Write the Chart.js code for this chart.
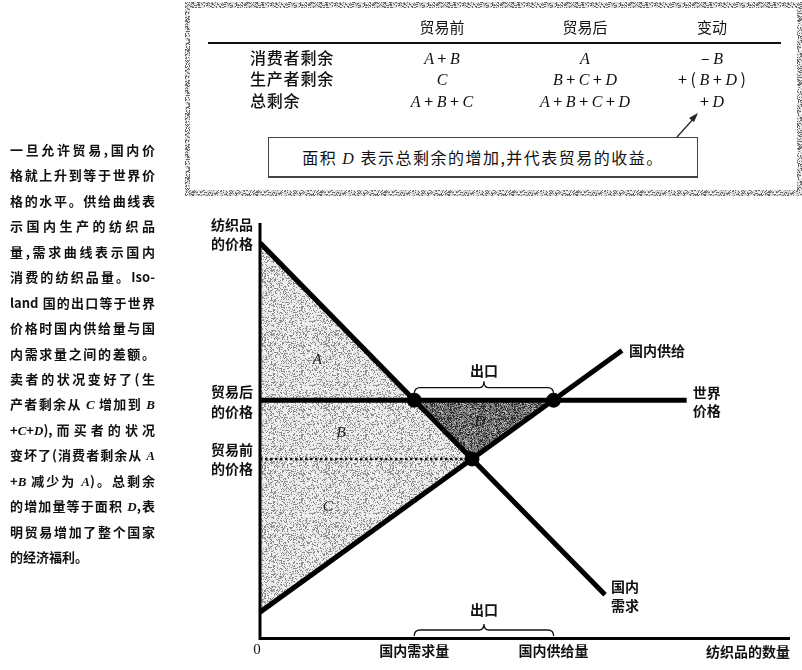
<!DOCTYPE html>
<html><head><meta charset="utf-8">
<script src="https://cdn.jsdelivr.net/npm/chart.js@4.4.1/dist/chart.umd.min.js"></script>
<style>
html,body{margin:0;padding:0;background:#fff;}
body{width:802px;height:670px;position:relative;overflow:hidden;font-family:"Noto Sans CJK SC","Noto Sans",sans-serif;color:#111;}
#c{position:absolute;left:0;top:0;width:802px;height:670px;}
.t{position:absolute;white-space:nowrap;height:20px;line-height:20px;}
.it{font-family:"Liberation Serif","DejaVu Serif",serif;font-style:italic;}
.p{position:absolute;left:10px;width:145px;height:20px;line-height:20px;font-size:13px;font-weight:bold;text-align:justify;text-align-last:justify;white-space:nowrap;color:#111;}
.p.last{text-align-last:left;}
.hd{font-size:15px;transform:translateX(-50%);}
.rl{font-size:16px;font-weight:500;left:250px;letter-spacing:0.8px;}
.cv{font-size:16px;transform:translateX(-50%);}
#hline{position:absolute;left:208px;top:42px;width:573px;height:2px;background:#111;}
#callout{position:absolute;left:268px;top:137px;width:428px;height:38px;border:1px solid #444;border-bottom:2px solid #444;background:#fff;font-size:16px;line-height:38px;text-align:center;letter-spacing:1.5px;}
#arrow{position:absolute;left:0;top:0;}
</style></head><body>
<canvas id="c" width="802" height="670"></canvas>
<div id="overlay"></div>
<script>
// ---- chart data (quantity on x, price on y, both 0..100 units) ----
const demandQ = [0, 65.1];
const demandP = [95.2, 10.2];
const supplyQ = [0, 68.3];
const supplyP = [6.0, 69.2];
const worldLineQ = [0, 80.5];
const worldPrice = 57.2;
const preTradePrice = 43.0;
const equilibriumQ = 40.0;
const tradeDemandQ = 29.1;
const tradeSupplyQ = 55.4;

// ---- table data ----
const tableHeaders = ['贸易前', '贸易后', '变动'];
const tableRows = ['消费者剩余', '生产者剩余', '总剩余'];
const beforeTrade = ['A + B', 'C', 'A + B + C'];
const afterTrade = ['A', 'B + C + D', 'A + B + C + D'];
const changeCol = ['– B', '+ ( B + D )', '+ D'];
const calloutText = '面积 D 表示总剩余的增加,并代表贸易的收益。';

// ---- side paragraph ----
const paragraphLines = [
  '一旦允许贸易,国内价',
  '格就上升到等于世界价',
  '格的水平。供给曲线表',
  '示国内生产的纺织品',
  '量,需求曲线表示国内',
  '消费的纺织品量。Iso-',
  'land 国的出口等于世界',
  '价格时国内供给量与国',
  '内需求量之间的差额。',
  '卖者的状况变好了(生',
  '产者剩余从 C 增加到 B',
  '+C+D),而买者的状况',
  '变坏了(消费者剩余从 A',
  '+B 减少为 A)。总剩余',
  '的增加量等于面积 D,表',
  '明贸易增加了整个国家',
  '的经济福利。'
];

function italicize(s) {
  return s.replace(/([A-D])/g, '<span class="it">$1</span>');
}

// ---- build HTML text ----
const ov = document.getElementById('overlay');
let html = '';
const colX = [442, 585, 712];
const rowY = [57, 78, 100];
tableHeaders.forEach((h, i) => {
  html += `<div class="t hd" style="left:${colX[i]}px;top:${27-10}px">${h}</div>`;
});
html += '<div id="hline"></div>';
const cols = [beforeTrade, afterTrade, changeCol];
tableRows.forEach((r, i) => {
  html += `<div class="t rl" style="top:${rowY[i]-10}px">${r}</div>`;
  cols.forEach((col, j) => {
    html += `<div class="t cv" style="left:${colX[j]}px;top:${rowY[i]-10}px">${italicize(col[i])}</div>`;
  });
});
html += `<div id="callout">${italicize(calloutText)}</div>`;
html += `<svg id="arrow" width="802" height="670"><line x1="677" y1="137" x2="695" y2="117" stroke="#222" stroke-width="1.2"/><polygon points="698,113 689,118 694,122" fill="#222"/></svg>`;
paragraphLines.forEach((l, i) => {
  const last = i === paragraphLines.length - 1 ? ' last' : '';
  html += `<div class="p${last}" style="top:${150 + i*25.44 - 10}px">${italicize(l)}</div>`;
});
ov.innerHTML = html;

// ---- stipple textures ----
function hash(x, y, s) {
  let n = Math.imul(x, 374761393) + Math.imul(y, 668265263) + Math.imul(s, 1442695041);
  n = Math.imul(n ^ (n >>> 13), 1274126177);
  n ^= n >>> 16;
  return (n >>> 0) / 4294967296;
}
function stipple(ctx, base, dark, frac, seed, light, lfrac) {
  const c = document.createElement('canvas');
  c.width = c.height = 64;
  const g = c.getContext('2d');
  g.fillStyle = base; g.fillRect(0, 0, 64, 64);
  for (let y = 0; y < 64; y++) for (let x = 0; x < 64; x++) {
    const h = hash(x, y, seed);
    if (h < frac) { g.fillStyle = dark; g.fillRect(x, y, 1, 1); }
    else if (light && h > 1 - lfrac) { g.fillStyle = light; g.fillRect(x, y, 1, 1); }
  }
  return ctx.createPattern(c, 'repeat');
}

function drawBrace(ctx, x1, x2, y0, h) {
  const mid = (x1 + x2) / 2, ym = y0 - h / 2, yt = y0 - h;
  ctx.beginPath();
  ctx.moveTo(x1, y0);
  ctx.quadraticCurveTo(x1, ym, x1 + 6, ym);
  ctx.lineTo(mid - 5, ym);
  ctx.quadraticCurveTo(mid, ym, mid, yt);
  ctx.quadraticCurveTo(mid, ym, mid + 5, ym);
  ctx.lineTo(x2 - 6, ym);
  ctx.quadraticCurveTo(x2, ym, x2, y0);
  ctx.stroke();
}

const decorPlugin = {
  id: 'decor',
  beforeDraw(chart) {
    const ctx = chart.ctx;
    ctx.save();
    const fr = stipple(ctx, '#d6d6d6', '#6a6a6a', 0.35, 7, '#ffffff', 0.2);
    ctx.fillStyle = fr;
    ctx.fillRect(185, 2, 617, 194);
    ctx.fillStyle = '#fff';
    ctx.fillRect(190, 8, 607, 182);
    ctx.restore();
  },
  beforeDatasetsDraw(chart) {
    const ctx = chart.ctx, xs = chart.scales.x, ys = chart.scales.y;
    const X = v => xs.getPixelForValue(v), Y = v => ys.getPixelForValue(v);
    ctx.save();
    ctx.fillStyle = stipple(ctx, '#e8e8e8', '#8c8c8c', 0.26, 3, '#ffffff', 0.12);
    ctx.beginPath();
    ctx.moveTo(X(0), Y(demandP[0]));
    ctx.lineTo(X(equilibriumQ), Y(preTradePrice));
    ctx.lineTo(X(0), Y(supplyP[0]));
    ctx.closePath();
    ctx.fill();
    ctx.fillStyle = stipple(ctx, '#7c7c7c', '#2e2e2e', 0.35, 11, '#bdbdbd', 0.12);
    ctx.beginPath();
    ctx.moveTo(X(tradeDemandQ), Y(worldPrice));
    ctx.lineTo(X(tradeSupplyQ), Y(worldPrice));
    ctx.lineTo(X(equilibriumQ), Y(preTradePrice));
    ctx.closePath();
    ctx.fill();
    ctx.restore();
  },
  afterDatasetsDraw(chart) {
    const ctx = chart.ctx, xs = chart.scales.x, ys = chart.scales.y;
    const X = v => xs.getPixelForValue(v), Y = v => ys.getPixelForValue(v);
    const a = chart.chartArea;
    ctx.save();
    // axes
    ctx.strokeStyle = '#000';
    ctx.lineWidth = 3;
    ctx.beginPath();
    ctx.moveTo(X(0), a.top);
    ctx.lineTo(X(0), a.bottom + 1.5);
    ctx.lineTo(a.right, a.bottom + 1.5);
    ctx.stroke();
    // braces
    ctx.lineWidth = 1.3;
    ctx.strokeStyle = '#111';
    drawBrace(ctx, X(tradeDemandQ), X(tradeSupplyQ), Y(worldPrice) - 6, 13);
    drawBrace(ctx, X(tradeDemandQ), X(tradeSupplyQ), a.bottom - 1, 12);
    // labels
    ctx.fillStyle = '#111';
    ctx.textBaseline = 'middle';
    ctx.font = 'bold 14px "Noto Sans CJK SC"';
    ctx.textAlign = 'right';
    const lx = X(0) - 7;
    ctx.fillText('纺织品', lx, a.top + 2);
    ctx.fillText('的价格', lx, a.top + 21);
    ctx.fillText('贸易后', lx, Y(worldPrice) - 9);
    ctx.fillText('的价格', lx, Y(worldPrice) + 11);
    ctx.fillText('贸易前', lx, Y(preTradePrice) - 9);
    ctx.fillText('的价格', lx, Y(preTradePrice) + 10);
    ctx.fillText('纺织品的数量', a.right, a.bottom + 15);
    ctx.textAlign = 'center';
    ctx.fillText('国内需求量', X(tradeDemandQ), a.bottom + 14);
    ctx.fillText('国内供给量', X(tradeSupplyQ), a.bottom + 14);
    ctx.fillText('出口', (X(tradeDemandQ) + X(tradeSupplyQ)) / 2, Y(worldPrice) - 30);
    ctx.fillText('出口', (X(tradeDemandQ) + X(tradeSupplyQ)) / 2, a.bottom - 27);
    ctx.textAlign = 'left';
    ctx.fillText('国内供给', X(supplyQ[1]) + 7, Y(supplyP[1]));
    ctx.fillText('世界', X(worldLineQ[1]) + 6, Y(worldPrice) - 8);
    ctx.fillText('价格', X(worldLineQ[1]) + 6, Y(worldPrice) + 10);
    ctx.fillText('国内', X(demandQ[1]) + 6, Y(demandP[1]) - 8);
    ctx.fillText('需求', X(demandQ[1]) + 6, Y(demandP[1]) + 11);
    ctx.font = '15px "Liberation Serif"';
    ctx.textAlign = 'center';
    ctx.fillText('0', X(0) - 3, a.bottom + 13);
    ctx.font = 'italic 15px "Liberation Serif"';
    ctx.fillStyle = '#1a1a1a';
    ctx.fillText('A', X(10.8), Y(66.9));
    ctx.fillText('B', X(15.3), Y(49.3));
    ctx.fillText('C', X(12.8), Y(31.4));
    ctx.fillText('D', X(41.5), Y(52.0));
    ctx.restore();
  }
};

const pt = (qs, ps) => qs.map((q, i) => ({x: q, y: ps[i]}));

new Chart(document.getElementById('c'), {
  type: 'scatter',
  data: {
    datasets: [
      {
        label: '交点',
        data: [
          {x: tradeDemandQ, y: worldPrice},
          {x: tradeSupplyQ, y: worldPrice},
          {x: equilibriumQ, y: preTradePrice}
        ],
        pointRadius: 7, pointBackgroundColor: '#000', pointBorderColor: '#000', showLine: false
      },
      {
        label: '国内需求',
        data: pt(demandQ, demandP),
        showLine: true, borderColor: '#000', borderWidth: 5, pointRadius: 0, tension: 0
      },
      {
        label: '国内供给',
        data: pt(supplyQ, supplyP),
        showLine: true, borderColor: '#000', borderWidth: 5, pointRadius: 0, tension: 0
      },
      {
        label: '世界价格',
        data: worldLineQ.map(q => ({x: q, y: worldPrice})),
        showLine: true, borderColor: '#000', borderWidth: 5, pointRadius: 0
      },
      {
        label: '贸易前的价格',
        data: [{x: 0, y: preTradePrice}, {x: equilibriumQ, y: preTradePrice}],
        showLine: true, borderColor: '#111', borderWidth: 2.5, borderDash: [2.5, 2.5], pointRadius: 0
      }
    ]
  },
  options: {
    responsive: false,
    animation: false,
    events: [],
    layout: {padding: {left: 260, right: 12, top: 223, bottom: 33}},
    plugins: {legend: {display: false}, tooltip: {enabled: false}},
    scales: {
      x: {type: 'linear', min: 0, max: 100, display: false},
      y: {type: 'linear', min: 0, max: 100, display: false}
    }
  },
  plugins: [decorPlugin]
});
</script>
</body></html>
